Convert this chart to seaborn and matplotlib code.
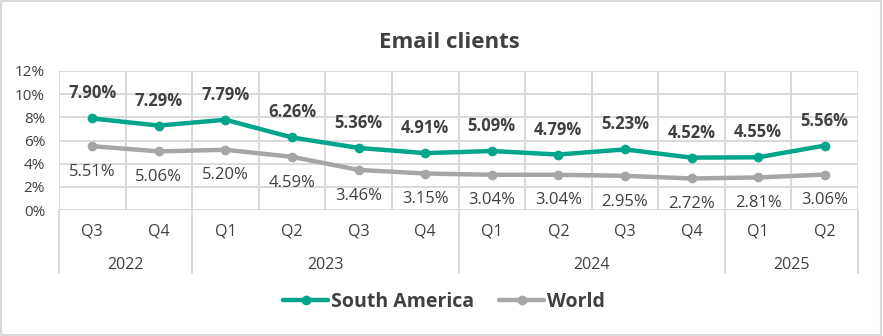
import matplotlib
matplotlib.use("Agg")
import matplotlib.pyplot as plt
import matplotlib.transforms as mtransforms
from matplotlib.patches import Rectangle
import seaborn as sns
import pandas as pd

quarters = ["Q3", "Q4", "Q1", "Q2", "Q3", "Q4", "Q1", "Q2", "Q3", "Q4", "Q1", "Q2"]
years = ["2022", "2023", "2024", "2025"]
year_spans = [(0, 1), (2, 5), (6, 9), (10, 11)]
south_america = [7.90, 7.29, 7.79, 6.26, 5.36, 4.91, 5.09, 4.79, 5.23, 4.52, 4.55, 5.56]
world = [5.51, 5.06, 5.20, 4.59, 3.46, 3.15, 3.04, 3.04, 2.95, 2.72, 2.81, 3.06]
series_names = ["South America", "World"]

TEAL = "#00A58A"
GRAY = "#A6A6A6"
TEXT = "#404040"
GRID = "#D9D9D9"

sns.set_theme(style="white")
plt.rcParams["font.family"] = ["Open Sans", "DejaVu Sans"]

df = pd.DataFrame({
    "idx": list(range(len(quarters))) * 2,
    "value": south_america + world,
    "series": [series_names[0]] * len(quarters) + [series_names[1]] * len(quarters),
})

fig = plt.figure(figsize=(8.83, 3.36), dpi=100)
ax = fig.add_axes([59 / 883, 1 - 210 / 336, (858 - 59) / 883, (210 - 71) / 336])

sns.lineplot(data=df, x="idx", y="value", hue="series", palette=[TEAL, GRAY],
             hue_order=series_names, marker="o", markersize=7, markeredgewidth=0,
             linewidth=3.2, ax=ax, legend=False, zorder=3)

ax.set_xlim(-0.5, len(quarters) - 0.5)
ax.set_ylim(0, 12)
ax.set_yticks(range(0, 13, 2))
ax.set_yticklabels([f"{v}%" for v in range(0, 13, 2)], color=TEXT, fontsize=11)
ax.tick_params(axis="y", length=0, pad=10)
ax.set_xticks([])
ax.set_xlabel("")
ax.set_ylabel("")
for s in ax.spines.values():
    s.set_visible(False)

# gridlines
for y in range(0, 13, 2):
    ax.axhline(y, color=GRID, lw=1.4, zorder=1)
for x in range(len(quarters) + 1):
    ax.axvline(x - 0.5, color=GRID, lw=1.4, zorder=1)

# data labels
for i, (sa, w) in enumerate(zip(south_america, world)):
    ax.annotate(f"{sa:.2f}%", (i, sa), xytext=(0, 18), textcoords="offset points",
                ha="center", va="center", fontsize=12, fontweight="bold", color=TEXT)
    ax.annotate(f"{w:.2f}%", (i, w), xytext=(0, -18.5), textcoords="offset points",
                ha="center", va="center", fontsize=12, color=TEXT)

# two-level category axis
trans = mtransforms.blended_transform_factory(ax.transData, ax.transAxes)
h = 139.0
for i, q in enumerate(quarters):
    ax.text(i, -(232 - 210) / h, q, transform=trans, ha="center", va="center",
            fontsize=11.5, color=TEXT)
for (a, b), yr in zip(year_spans, years):
    ax.text((a + b) / 2, -(265 - 210) / h, yr, transform=trans, ha="center",
            va="center", fontsize=11.5, color=TEXT)
bounds = sorted({a - 0.5 for a, _ in year_spans} | {b + 0.5 for _, b in year_spans})
for xb in bounds:
    ax.plot([xb, xb], [0, -(273 - 210) / h], transform=trans, color=GRID, lw=1.4,
            clip_on=False, zorder=1)

# title
fig.text(449 / 883, 1 - 42 / 336, "Email clients", ha="center", va="center",
         fontsize=16, fontweight="bold", color=TEXT)

# legend
handles = [plt.Line2D([], [], color=c, lw=3.2, marker="o", markersize=7,
                      markeredgewidth=0) for c in (TEAL, GRAY)]
leg = fig.legend(handles, series_names, loc="center", bbox_to_anchor=(444 / 883, 1 - 302 / 336),
                 ncol=2, frameon=False, handlelength=2.3, handletextpad=0.15,
                 columnspacing=1.3, prop={"weight": "bold", "size": 14})
for t in leg.get_texts():
    t.set_color(TEXT)

# outer border
fig.patches.append(Rectangle((0.001, 0.002), 0.997, 0.995, transform=fig.transFigure,
                             fill=False, edgecolor=GRID, lw=1.5))

fig.savefig("out.png", dpi=100)
